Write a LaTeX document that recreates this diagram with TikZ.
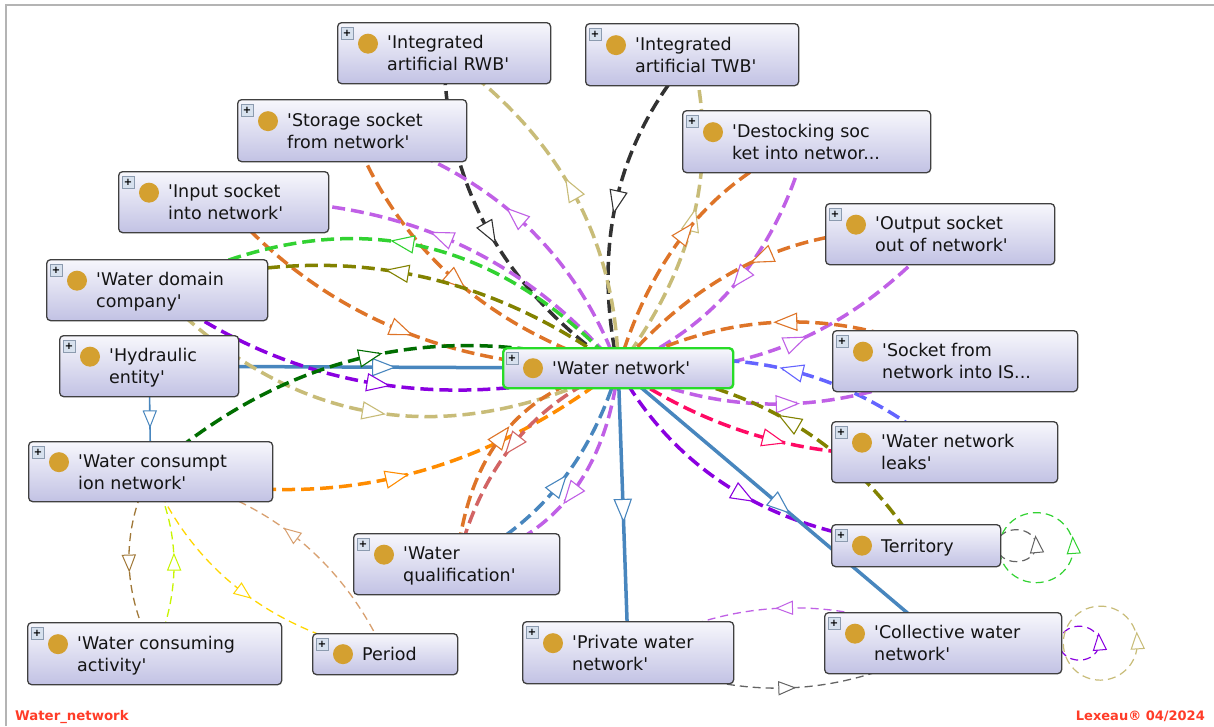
\documentclass[tikz,border=0pt]{standalone}
\usepackage{fontspec}
\newfontfamily\nf{DejaVu Sans}
\usetikzlibrary{calc,decorations.markings}
\pgfdeclarelayer{back}
\pgfdeclarelayer{bg}
\pgfsetlayers{back,bg,main}
\definecolor{cblk}{RGB}{50,50,50}
\definecolor{ckha}{RGB}{200,188,120}
\definecolor{corg}{RGB}{222,116,40}
\definecolor{cvio}{RGB}{192,96,230}
\definecolor{cgrn}{RGB}{50,210,50}
\definecolor{coli}{RGB}{130,130,0}
\definecolor{cpur}{RGB}{138,0,224}
\definecolor{cdgr}{RGB}{0,110,0}
\definecolor{cbor}{RGB}{255,140,0}
\definecolor{cros}{RGB}{210,100,100}
\definecolor{cstl}{RGB}{72,134,190}
\definecolor{cper}{RGB}{100,100,255}
\definecolor{cpnk}{RGB}{255,10,100}
\definecolor{cbrn}{RGB}{160,120,56}
\definecolor{cygr}{RGB}{200,245,0}
\definecolor{cyel}{RGB}{255,215,0}
\definecolor{ctan}{RGB}{216,160,112}
\definecolor{cgry}{RGB}{100,100,100}
\definecolor{cred}{RGB}{255,60,40}
\definecolor{gold}{RGB}{212,160,48}
\definecolor{boxtop}{RGB}{247,247,252}
\definecolor{boxbot}{RGB}{194,194,228}
\definecolor{boxln}{RGB}{64,64,64}
\definecolor{wngrn}{RGB}{40,220,40}
\definecolor{plusfill}{RGB}{215,225,238}
\definecolor{plusln}{RGB}{140,155,175}
\definecolor{framec}{RGB}{180,180,180}
\tikzset{
  obx/.style={draw=boxln, line width=1.3pt, rounded corners=4pt, top color=boxtop, bottom color=boxbot, inner sep=0pt},
  wnb/.style={draw=wngrn, line width=2.4pt},
  plusb/.style={draw=plusln, fill=plusfill, minimum size=12pt, inner sep=0pt, line width=0.6pt, text=black, font=\nf\fontsize{10}{10}\selectfont\bfseries},
  golddot/.style={circle, fill=gold, minimum size=20pt, inner sep=0pt},
  lbl/.style={anchor=west, align=left, inner sep=0pt, text={rgb,255:red,20;green,20;blue,20}, font=\nf\fontsize{17.5}{22}\selectfont},
  ed/.style={line width=3.5pt, dash pattern=on 13pt off 6pt},
  th/.style={line width=1.3pt, dash pattern=on 8pt off 5pt},
  sl/.style={line width=3.5pt},
  ma/.style={postaction={decorate,decoration={markings,mark=at position #1 with {\draw[solid,line width=1.1pt,fill=white] (11pt,0pt) -- (-11pt,8.5pt) -- (-11pt,-8.5pt) -- cycle;}}}},
  ma/.default=0.5,
  mas/.style={postaction={decorate,decoration={markings,mark=at position #1 with {\draw[solid,line width=1pt,fill=white] (8pt,0pt) -- (-8pt,6.5pt) -- (-8pt,-6.5pt) -- cycle;}}}},
  mas/.default=0.5,
  thru/.style={to path={.. controls ($(#1)!-1/3!(\tikztotarget)$) and ($(#1)!-1/3!(\tikztostart)$) .. (\tikztotarget)}},
}
\newcommand\obox[8][]{%
  \node[obx,#1,minimum width=#5pt,minimum height=#6pt,anchor=north west] (#2) at (#3,#4) {};
  \node[plusb] (#2p) at ([xshift=10pt,yshift=-11pt]#2.north west) {+};
  \node[golddot] (#2d) at ([xshift=31pt,yshift=#7pt]#2.west) {};
  \node[lbl] (#2t) at ([xshift=50pt,yshift=-2pt]#2.west) {#8};
}
\begin{document}
\begin{tikzpicture}[x=1pt,y=-1pt]
\useasboundingbox (0,0) rectangle (1214,726);
\begin{pgfonlayer}{back}
\fill[white] (0,0) rectangle (1214,726);
\draw[framec, line width=2pt] (6,726) -- (6,5) -- (1214,5);
\end{pgfonlayer}

\obox{rwb}{337}{22}{213}{61}{9.5}{\strut'Integrated\\\strut artificial RWB'}
\obox{twb}{585}{23}{213}{62}{9.5}{\strut'Integrated\\\strut artificial TWB'}
\obox{sto}{237}{99}{229}{62}{9.5}{\strut'Storage socket\\\strut from network'}
\obox{des}{682}{110}{248}{62}{9.5}{\strut'Destocking soc\\\strut ket into networ...}
\obox{inp}{118}{171}{210}{61}{9.5}{\strut'Input socket\\\strut into network'}
\obox{out}{825}{203}{229}{61}{9.5}{\strut'Output socket\\\strut out of network'}
\obox{wdc}{46}{259}{221}{61}{9.5}{\strut'Water domain\\\strut company'}
\obox{hyd}{59}{335}{179}{61}{9.5}{\strut'Hydraulic\\\strut entity'}
\obox[wnb]{wn}{502}{347}{230}{40}{0}{\strut'Water network'}
\obox{sck}{832}{330}{245}{61}{9.5}{\strut'Socket from\\\strut network into IS...}
\obox{lea}{831}{421}{226}{61}{9.5}{\strut'Water network\\\strut leaks'}
\obox{wcn}{28}{441}{244}{60}{9.5}{\strut'Water consumpt\\\strut ion network'}
\obox{ter}{831}{524}{169}{42}{0}{\strut Territory}
\obox{wq}{353}{533}{206}{61}{9.5}{\strut'Water\\\strut qualification'}
\obox{wca}{27}{622}{254}{62}{9.5}{\strut'Water consuming\\\strut activity'}
\obox{per}{312}{633}{145}{41}{0}{\strut Period}
\obox{pri}{522}{621}{211}{62}{9.5}{\strut'Private water\\\strut network'}
\obox{col}{824}{612}{237}{61}{9.5}{\strut'Collective water\\\strut network'}

\node[anchor=base west, inner sep=0pt, text=cred, font=\nf\fontsize{13.3}{16}\selectfont\bfseries] (title) at (15,720) {Water\_network};
\node[anchor=base east, inner sep=0pt, text=cred, font=\nf\fontsize{13}{16}\selectfont\bfseries] (credit) at (1205,720) {Lexeau® 04/2024};

\begin{pgfonlayer}{bg}
% top
\draw[ed,cblk,ma] (rwb.center) to[thru={488,230}] (wn.center);
\draw[ed,cblk,ma] (twb.center) to[thru={617,198}] (wn.center);
\draw[ed,ckha,ma] (wn.center) to[thru={573,192}] (rwb.center);
\draw[ed,ckha,ma] (wn.center) to[thru={694,215}] (twb.center);
\draw[ed,corg,ma] (wn.center) to[thru={690,227}] (des.center);
\draw[ed,cvio,ma] (des.center) to[thru={737,282}] (wn.center);
% right
\draw[ed,corg,ma] (out.center) to[thru={766,256}] (wn.center);
\draw[ed,cvio,ma] (wn.center) to[thru={792,343}] (out.center);
\draw[ed,corg,ma] (sck.center) to[thru={786,322}] (wn.center);
\draw[ed,cper,ma] (lea.center) to[thru={793,371}] (wn.center);
\draw[ed,cvio,ma] (wn.center) to[thru={783,404}] (sck.center);
\draw[ed,coli,ma] (ter.center) to[thru={792,423}] (wn.center);
\draw[ed,cpnk,ma] (wn.center) to[thru={773,440}] (lea.center);
\draw[ed,cpur,ma] (wn.center) to[thru={737,492}] (ter.center);
\draw[sl,cstl,ma] (wn.center) -- (col.center);
\draw[sl,cstl,ma] (wn.center) -- (pri.center);
% left
\draw[sl,cstl,ma] (hyd.center) -- (wn.center);
\draw[cstl,line width=1.6pt,mas] (hyd.center) -- (wcn.center);
\draw[ed,cvio,ma] (wn.center) to[thru={518,218}] (sto.center);
\draw[ed,corg,ma] (sto.center) to[thru={453,278}] (wn.center);
\draw[ed,cvio,ma] (wn.center) to[thru={445,238}] (inp.center);
\draw[ed,corg,ma] (inp.center) to[thru={395,328}] (wn.center);
\draw[ed,cgrn,ma] (wn.center) to[thru={405,243}] (wdc.center);
\draw[ed,coli,ma] (wn.center) to[thru={398,272}] (wdc.center);
\draw[ed,cpur,ma] (wdc.center) to[thru={372,383}] (wn.center);
\draw[ed,ckha,ma] (wdc.center) to[thru={372,412}] (wn.center);
\draw[ed,cdgr,ma] (wcn.center) to[thru={370,356}] (wn.center);
\draw[ed,cbor,ma] (wcn.center) to[thru={393,478}] (wn.center);
% bottom
\draw[ed,corg,ma] (wq.center) to[thru={505,432}] (wn.center);
\draw[ed,cros,ma] (wn.center) to[thru={515,442}] (wq.center);
\draw[ed,cstl,ma] (wq.center) to[thru={557,487}] (wn.center);
\draw[ed,cvio,ma] (wn.center) to[thru={568,498}] (wq.center);
% thin
\draw[th,cbrn,mas] (wcn.center) to[thru={129,562}] (wca.center);
\draw[th,cygr,mas] (wca.center) to[thru={174,560}] (wcn.center);
\draw[th,cyel,mas] (wcn.center) to[thru={240,590}] (per.center);
\draw[th,ctan,mas] (per.center) to[thru={293,535}] (wcn.center);
\draw[th,cvio,mas] (col.center) to[thru={785,608}] (pri.center);
\draw[th,cgry,mas] (pri.center) to[thru={786,688}] (col.center);
% self loops
\draw[th,cgry,line width=1.2pt,mas=0.01] ([xshift=15pt]ter.east) circle[x radius=20pt,y radius=16pt];
\draw[th,cgrn,line width=1.2pt,mas=0.01] ([xshift=35pt,yshift=-2pt]ter.east) circle[x radius=37pt,y radius=35pt];
\draw[th,cpur,line width=1.2pt,mas=0.01] ([xshift=17pt]col.east) circle[x radius=20pt,y radius=17pt];
\draw[th,ckha,line width=1.2pt,mas=0.01] ([xshift=38pt]col.east) circle[x radius=37pt,y radius=37pt];
\end{pgfonlayer}
\end{tikzpicture}
\end{document}
